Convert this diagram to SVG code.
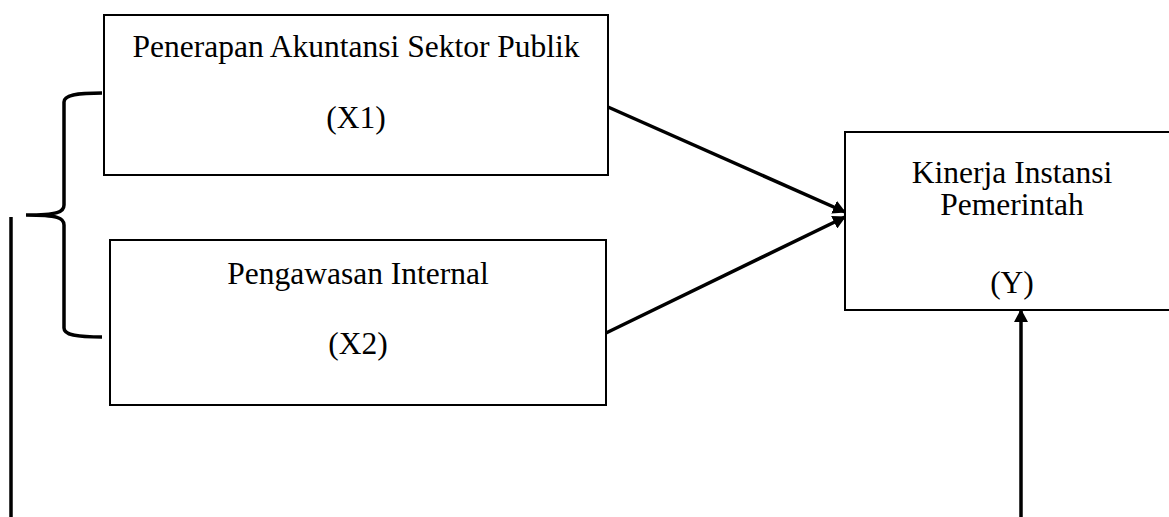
<svg xmlns="http://www.w3.org/2000/svg" width="1169" height="517" viewBox="0 0 1169 517">
<style>
.box{fill:#fff;stroke:#000;stroke-width:2}
.t{font-family:"Liberation Serif","Times New Roman",serif;font-size:31.5px;fill:#000;text-anchor:middle}
.ln{stroke:#000;stroke-width:3.5;fill:none}
</style>
<defs>
<marker id="ah" viewBox="0 0 13 14" refX="12" refY="7" markerWidth="13" markerHeight="14" orient="auto" markerUnits="userSpaceOnUse">
<path d="M0,0 L13,7 L0,14 Z" fill="#000"/>
</marker>
</defs>
<rect width="1169" height="517" fill="#fff"/>
<g id="x1">
<rect class="box" x="104" y="15" width="504" height="160"/>
<text class="t" x="356" y="57">Penerapan Akuntansi Sektor Publik</text>
<text class="t" x="356" y="128">(X1)</text>
</g>
<g id="x2">
<rect class="box" x="110" y="240" width="496" height="165"/>
<text class="t" x="358" y="284">Pengawasan Internal</text>
<text class="t" x="358" y="354">(X2)</text>
</g>
<g id="y">
<rect class="box" x="845" y="132" width="335" height="178"/>
<text class="t" x="1012" y="183">Kinerja Instansi</text>
<text class="t" x="1012" y="215">Pemerintah</text>
<text class="t" x="1012" y="293">(Y)</text>
</g>
<g id="connectors">
<path class="ln" d="M102,93 C76,93 64,95 64,102 L64,205 C64,212 58,215 26,215 C58,215 64,218 64,225 L64,328 C64,335 76,337 102,337"/>
<line class="ln" x1="11" y1="217" x2="11" y2="517"/>
<line class="ln" x1="608" y1="107" x2="845" y2="212" marker-end="url(#ah)"/>
<line class="ln" x1="606" y1="333" x2="845" y2="217" marker-end="url(#ah)"/>
<line class="ln" x1="1021" y1="517" x2="1021" y2="310" marker-end="url(#ah)"/>
</g>
</svg>
